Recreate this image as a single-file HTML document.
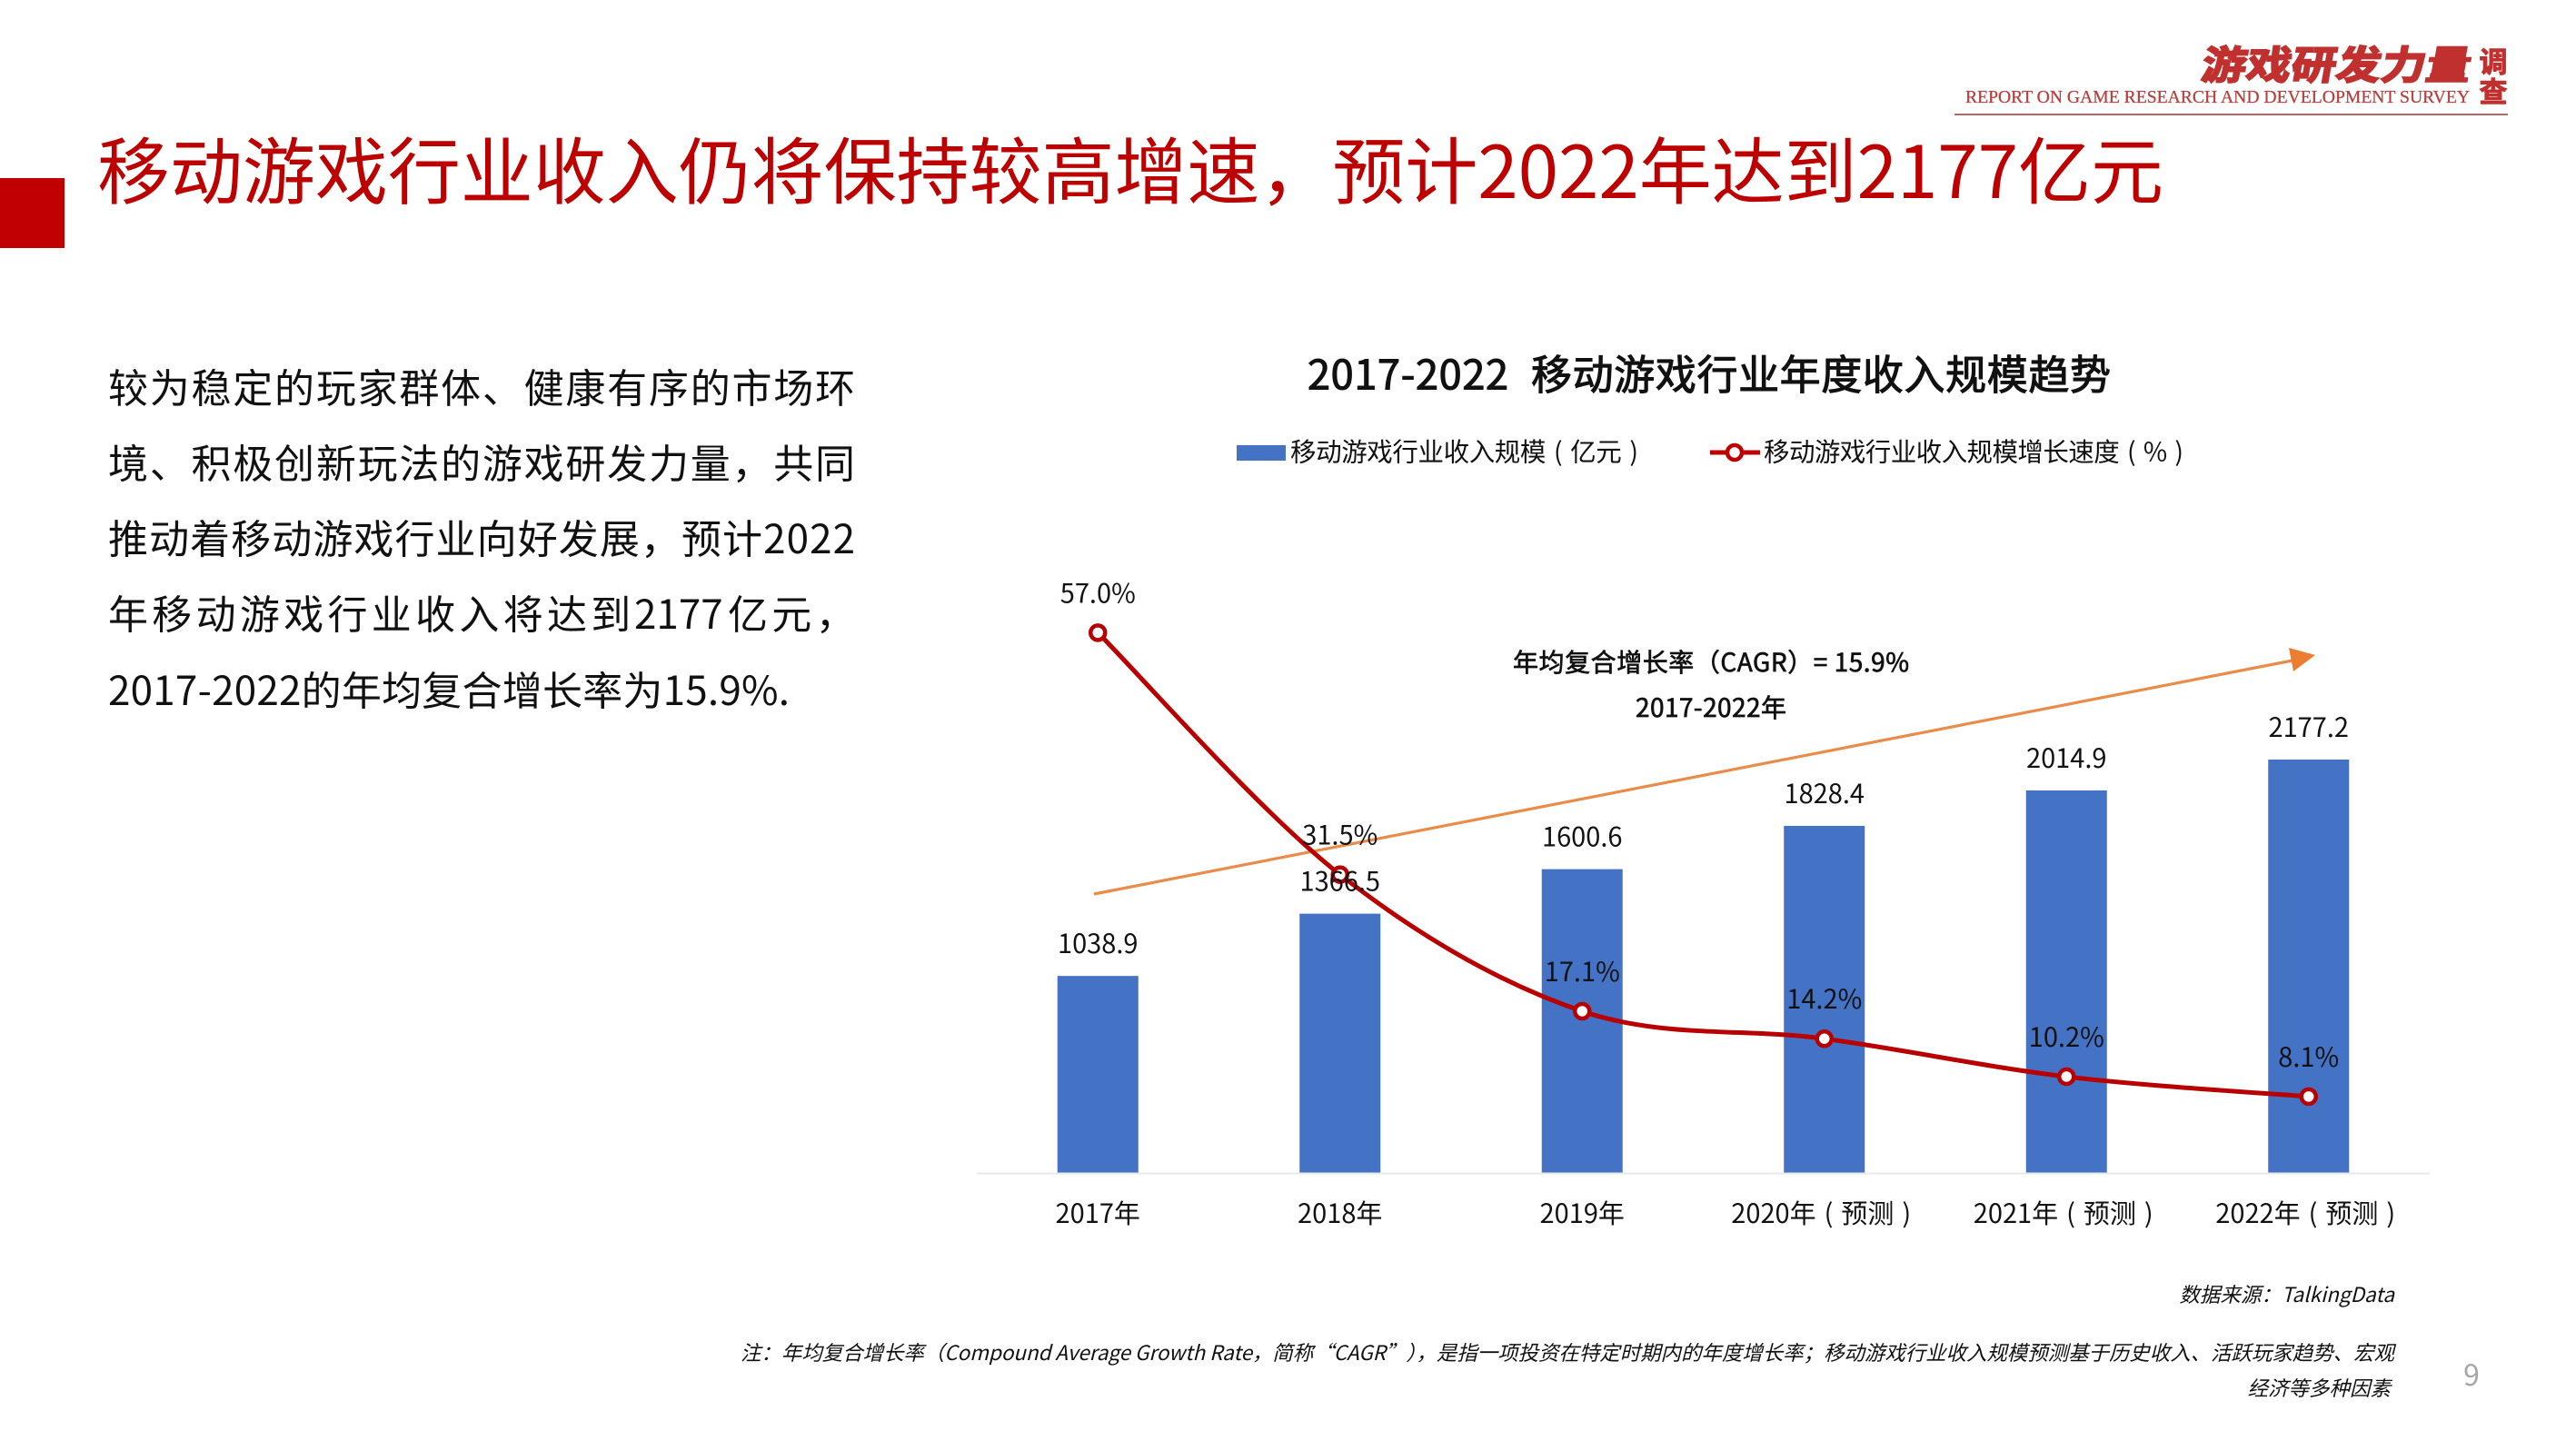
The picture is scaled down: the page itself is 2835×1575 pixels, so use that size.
<!DOCTYPE html>
<html lang="zh-CN">
<head>
<meta charset="utf-8">
<title>移动游戏行业收入趋势</title>
<style>
html,body{margin:0;padding:0;background:#fff;}
body{width:2835px;height:1575px;overflow:hidden;}
svg{display:block;}
text{font-family:"Noto Sans CJK SC","Liberation Sans",sans-serif;fill:#111;dominant-baseline:central;}
</style>
</head>
<body>
<svg id="page" xmlns="http://www.w3.org/2000/svg" width="2835" height="1575" viewBox="0 0 2835 1575">
  <rect x="0" y="0" width="2835" height="1575" fill="#ffffff"/>

  <g>
    <text transform="translate(2421 87) skewX(-10) scale(1 .88)" font-size="49" font-weight="700" textLength="296" style="fill:#c0302e;stroke:#c0302e;stroke-width:2.2;dominant-baseline:alphabetic;">游戏研发力量</text>
    <text x="2744" y="66" font-size="31" font-weight="700" text-anchor="middle" style="fill:#c0302e;stroke:#c0302e;stroke-width:1;">调</text>
    <text x="2744" y="99" font-size="31" font-weight="700" text-anchor="middle" style="fill:#c0302e;stroke:#c0302e;stroke-width:1;">查</text>
    <text x="2163" y="107" font-size="20" textLength="555" lengthAdjust="spacingAndGlyphs" style="font-family:'Liberation Serif',serif;fill:#b8403f;stroke:#b8403f;stroke-width:.3;">REPORT ON GAME RESEARCH AND DEVELOPMENT SURVEY</text>
    <line x1="2151" y1="126" x2="2760" y2="126" stroke="#b05050" stroke-width="1.8"/>
  </g>

  <rect x="0" y="196" width="71" height="77" fill="#c00000"/>
  <text x="107" y="184" font-size="80" textLength="2274" style="fill:#bd0000;">移动游戏行业收入仍将保持较高增速，预计2022年达到2177亿元</text>

  <g font-size="44">
    <text x="119" y="424" textLength="822">较为稳定的玩家群体、健康有序的市场环</text>
    <text x="119" y="507" textLength="822">境、积极创新玩法的游戏研发力量，共同</text>
    <text x="119" y="590" textLength="822">推动着移动游戏行业向好发展，预计2022</text>
    <text x="119" y="673" style="letter-spacing:4.3px;">年移动游戏行业收入将达到</text>
    <text x="698" y="673">2177</text>
    <text x="801" y="673" style="letter-spacing:4.3px;">亿元，</text>
    <text x="119" y="757" textLength="750">2017-2022的年均复合增长率为15.9%.</text>
  </g>

  <g id="chart">
    <g font-size="45" style="stroke:#111;stroke-width:1.1;">
      <text x="1439" y="409" textLength="221">2017-2022</text>
      <text x="1685" y="409" textLength="638">移动游戏行业年度收入规模趋势</text>
    </g>

    <g>
      <rect x="1361" y="490" width="54" height="17" fill="#4472c4"/>
      <text x="1420" y="496" font-size="28.5" textLength="383" style="word-spacing:3px;">移动游戏行业收入规模 ( 亿元 )</text>
      <line x1="1882" y1="498" x2="1937" y2="498" stroke="#bd0000" stroke-width="5"/>
      <circle cx="1909" cy="498" r="8" fill="#fff" stroke="#bd0000" stroke-width="4.5"/>
      <text x="1941" y="496" font-size="28.5" textLength="462" style="word-spacing:3px;">移动游戏行业收入规模增长速度 ( % )</text>
    </g>

    <g id="bars"></g>
    <line id="x-axis" stroke="#e8e8e8" stroke-width="2"/>

    <g>
      <line x1="1204" y1="984" x2="2528" y2="726" stroke="#e98c4a" stroke-width="3.2"/>
      <polygon points="2548,721 2519,713 2524,739" fill="#ed7d31"/>
    </g>
    <g font-size="28" style="stroke:#111;stroke-width:.7;">
      <text x="1883" y="728" text-anchor="middle" textLength="436">年均复合增长率（CAGR）= 15.9%</text>
      <text x="1883" y="778" text-anchor="middle" textLength="166">2017-2022年</text>
    </g>

    <g id="line-series"></g>
    <g id="labels"></g>
    <g id="x-ticks"></g>
  </g>

  <g font-size="22.5" font-style="italic">
    <text x="2635" y="1424" text-anchor="end">数据来源：TalkingData</text>
    <text x="815" y="1488" textLength="1820">注：年均复合增长率（Compound Average Growth Rate，简称“CAGR”），是指一项投资在特定时期内的年度增长率；移动游戏行业收入规模预测基于历史收入、活跃玩家趋势、宏观</text>
    <text x="2631" y="1527" text-anchor="end">经济等多种因素</text>
  </g>
  <text x="2720" y="1512" font-size="32" text-anchor="middle" style="fill:#a6a6a6;">9</text>
</svg>

<script>
const categories = ['2017年', '2018年', '2019年', '2020年 ( 预测 )', '2021年 ( 预测 )', '2022年 ( 预测 )'];
const revenueValues = [1038.9, 1366.5, 1600.6, 1828.4, 2014.9, 2177.2];
const growthValues = [57.0, 31.5, 17.1, 14.2, 10.2, 8.1];

const SVG_NS = 'http://www.w3.org/2000/svg';
const plotLeft = 1075;
const plotRight = 2674;
const plotBottom = 1291.5;
const barScale = 455.5 / 2177.2;
const lineScale = 510.6 / 48.9;
const barWidth = 89;

function xAt(i) { return plotLeft + (plotRight - plotLeft) * (i + 0.5) / categories.length; }
function yBar(v) { return plotBottom - v * barScale; }
function yGrowth(v) { return plotBottom - v * lineScale; }
function svgEl(tag, parent) {
  const n = document.createElementNS(SVG_NS, tag);
  parent.appendChild(n);
  return n;
}

const axisLine = document.getElementById('x-axis');
axisLine.setAttribute('x1', plotLeft);
axisLine.setAttribute('x2', plotRight);
axisLine.setAttribute('y1', plotBottom);
axisLine.setAttribute('y2', plotBottom);

const barsGroup = document.getElementById('bars');
const lineGroup = document.getElementById('line-series');
const labelGroup = document.getElementById('labels');
const tickGroup = document.getElementById('x-ticks');

revenueValues.forEach(function (v, i) {
  const bar = svgEl('rect', barsGroup);
  
  
  bar.setAttribute('x', xAt(i) - barWidth / 2);
  bar.setAttribute('y', yBar(v));
  bar.setAttribute('width', barWidth);
  bar.setAttribute('height', plotBottom - yBar(v));
  bar.setAttribute('fill', '#4472c4');
});

const pts = growthValues.map(function (v, i) { return [xAt(i), yGrowth(v)]; });
let pathData = 'M' + pts[0][0] + ' ' + pts[0][1];
for (let i = 0; i < pts.length - 1; i++) {
  const p0 = pts[Math.max(i - 1, 0)];
  const p1 = pts[i];
  const p2 = pts[i + 1];
  const p3 = pts[Math.min(i + 2, pts.length - 1)];
  const c1x = p1[0] + (p2[0] - p0[0]) / 6;
  const c1y = p1[1] + (p2[1] - p0[1]) / 6;
  const c2x = p2[0] - (p3[0] - p1[0]) / 6;
  const c2y = p2[1] - (p3[1] - p1[1]) / 6;
  pathData += ' C' + c1x + ' ' + c1y + ' ' + c2x + ' ' + c2y + ' ' + p2[0] + ' ' + p2[1];
}
const growthPath = svgEl('path', lineGroup);


growthPath.setAttribute('d', pathData);
growthPath.setAttribute('fill', 'none');
growthPath.setAttribute('stroke', '#b90000');
growthPath.setAttribute('stroke-width', '5');

growthValues.forEach(function (v, i) {
  const dot = svgEl('circle', lineGroup);
  
  
  dot.setAttribute('cx', xAt(i));
  dot.setAttribute('cy', yGrowth(v));
  dot.setAttribute('r', '8');
  dot.setAttribute('fill', '#ffffff');
  dot.setAttribute('stroke', '#b90000');
  dot.setAttribute('stroke-width', '4.5');
});

revenueValues.forEach(function (v, i) {
  const t = svgEl('text', labelGroup);
  
  
  t.setAttribute('x', xAt(i));
  t.setAttribute('y', yBar(v) - 37);
  t.setAttribute('font-size', '29');
  t.setAttribute('text-anchor', 'middle');
  t.textContent = v.toFixed(1);
});

growthValues.forEach(function (v, i) {
  const t = svgEl('text', labelGroup);
  
  
  t.setAttribute('x', xAt(i));
  t.setAttribute('y', yGrowth(v) - 45);
  t.setAttribute('font-size', '29');
  t.setAttribute('text-anchor', 'middle');
  t.textContent = v.toFixed(1) + '%';
});

categories.forEach(function (c, i) {
  const t = svgEl('text', tickGroup);
  
  
  t.setAttribute('x', xAt(i) + (c.length > 6 ? -3.5 : 0));
  t.setAttribute('y', 1334);
  t.setAttribute('font-size', '29');
  t.setAttribute('text-anchor', 'middle');
  t.setAttribute('word-spacing', '2.5');
  t.textContent = c;
});
</script>
</body>
</html>
